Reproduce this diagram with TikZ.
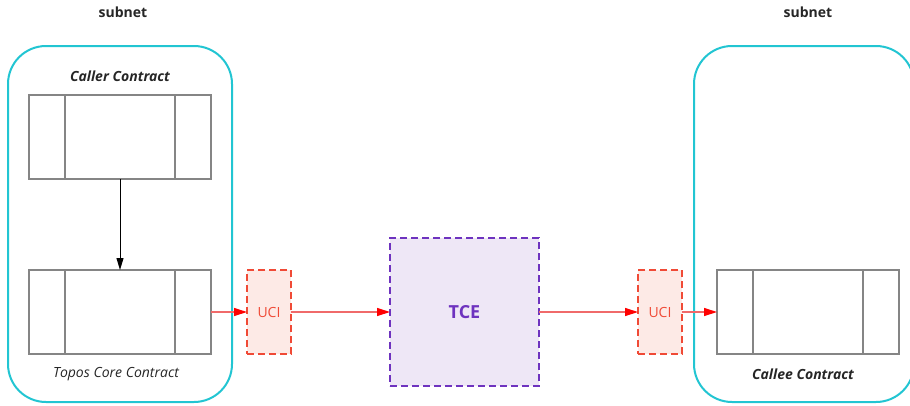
\documentclass[tikz,border=0pt]{standalone}
\usepackage{fontspec}
\setmainfont{Open Sans}
\usetikzlibrary{arrows.meta}
\definecolor{subnetcol}{HTML}{22C5D2}
\definecolor{boxgray}{HTML}{858585}
\definecolor{ucired}{HTML}{F04A36}
\definecolor{ucifill}{HTML}{FDEAE6}
\definecolor{tcepurple}{HTML}{6E33BF}
\definecolor{tcefill}{HTML}{EEE7F6}
\definecolor{linkred}{HTML}{F06A6A}
\begin{document}
\begin{tikzpicture}[x=1pt, y=-1pt]
    \tikzstyle{every node}=[inner sep=0pt, outer sep=0pt, font=\fontsize{14}{16}\selectfont, text=black!85]
    \tikzstyle{subnet}=[draw=subnetcol, line width=2pt, rounded corners=38pt]
    \tikzstyle{contract}=[draw=boxgray, line width=2pt, minimum width=182pt, minimum height=84pt]
    \tikzstyle{uci}=[draw=ucired, fill=ucifill, dashed, dash pattern=on 7pt off 4pt, line width=2pt, minimum width=44pt, minimum height=84pt, text=ucired]
    \tikzstyle{link}=[linkred, line width=1.2pt, -{Triangle[length=13pt, width=8pt, fill=red, color=red]}]

    \useasboundingbox (0,0) rectangle (910,405);
    \clip (0,0) rectangle (910,405);

    % subnets
    \draw[subnet] (8,46) rectangle (232,402);
    \draw[subnet] (694,46) rectangle (914,402);
    \node[font=\bfseries\fontsize{14}{16}\selectfont] (subnetL) at (123,12) {subnet};
    \node[font=\bfseries\fontsize{14}{16}\selectfont] (subnetR) at (808,12) {subnet};

    % contracts
    \node[contract] (caller) at (120,137) {};
    \node[contract] (core) at (120,312) {};
    \node[contract] (callee) at (808,312) {};
    \foreach \c in {caller, core, callee} {
        \draw[boxgray, line width=2pt] ([xshift=36pt]\c.north west) -- ([xshift=36pt]\c.south west);
        \draw[boxgray, line width=2pt] ([xshift=-36pt]\c.north east) -- ([xshift=-36pt]\c.south east);
    }
    \node[font=\bfseries\itshape\fontsize{14}{16}\selectfont] (callerlbl) at (120,76) {Caller Contract};
    \node[font=\itshape\fontsize{14}{16}\selectfont] (corelbl) at (116,374) {Topos Core Contract};
    \node[font=\bfseries\itshape\fontsize{14}{16}\selectfont] (calleelbl) at (803,374) {Callee Contract};

    % UCI and TCE
    \node[uci] (uciA) at (269,312) {UCI};
    \node[uci] (uciB) at (660,312) {UCI};
    \node[draw=tcepurple, fill=tcefill, dashed, dash pattern=on 7pt off 4pt, line width=2pt,
          minimum width=149pt, minimum height=148pt, text=tcepurple,
          font=\bfseries\fontsize{18}{20}\selectfont] (tce) at (464.5,312) {TCE};

    % calls
    \draw[-{Triangle[length=12pt, width=7pt]}, line width=1pt] (caller.south) -- (core.north);
    \draw[link] (core.east) -- (uciA.west);
    \draw[link] (uciA.east) -- (tce.west);
    \draw[link] (tce.east) -- (uciB.west);
    \draw[link] (uciB.east) -- (callee.west);
\end{tikzpicture}
\end{document}
